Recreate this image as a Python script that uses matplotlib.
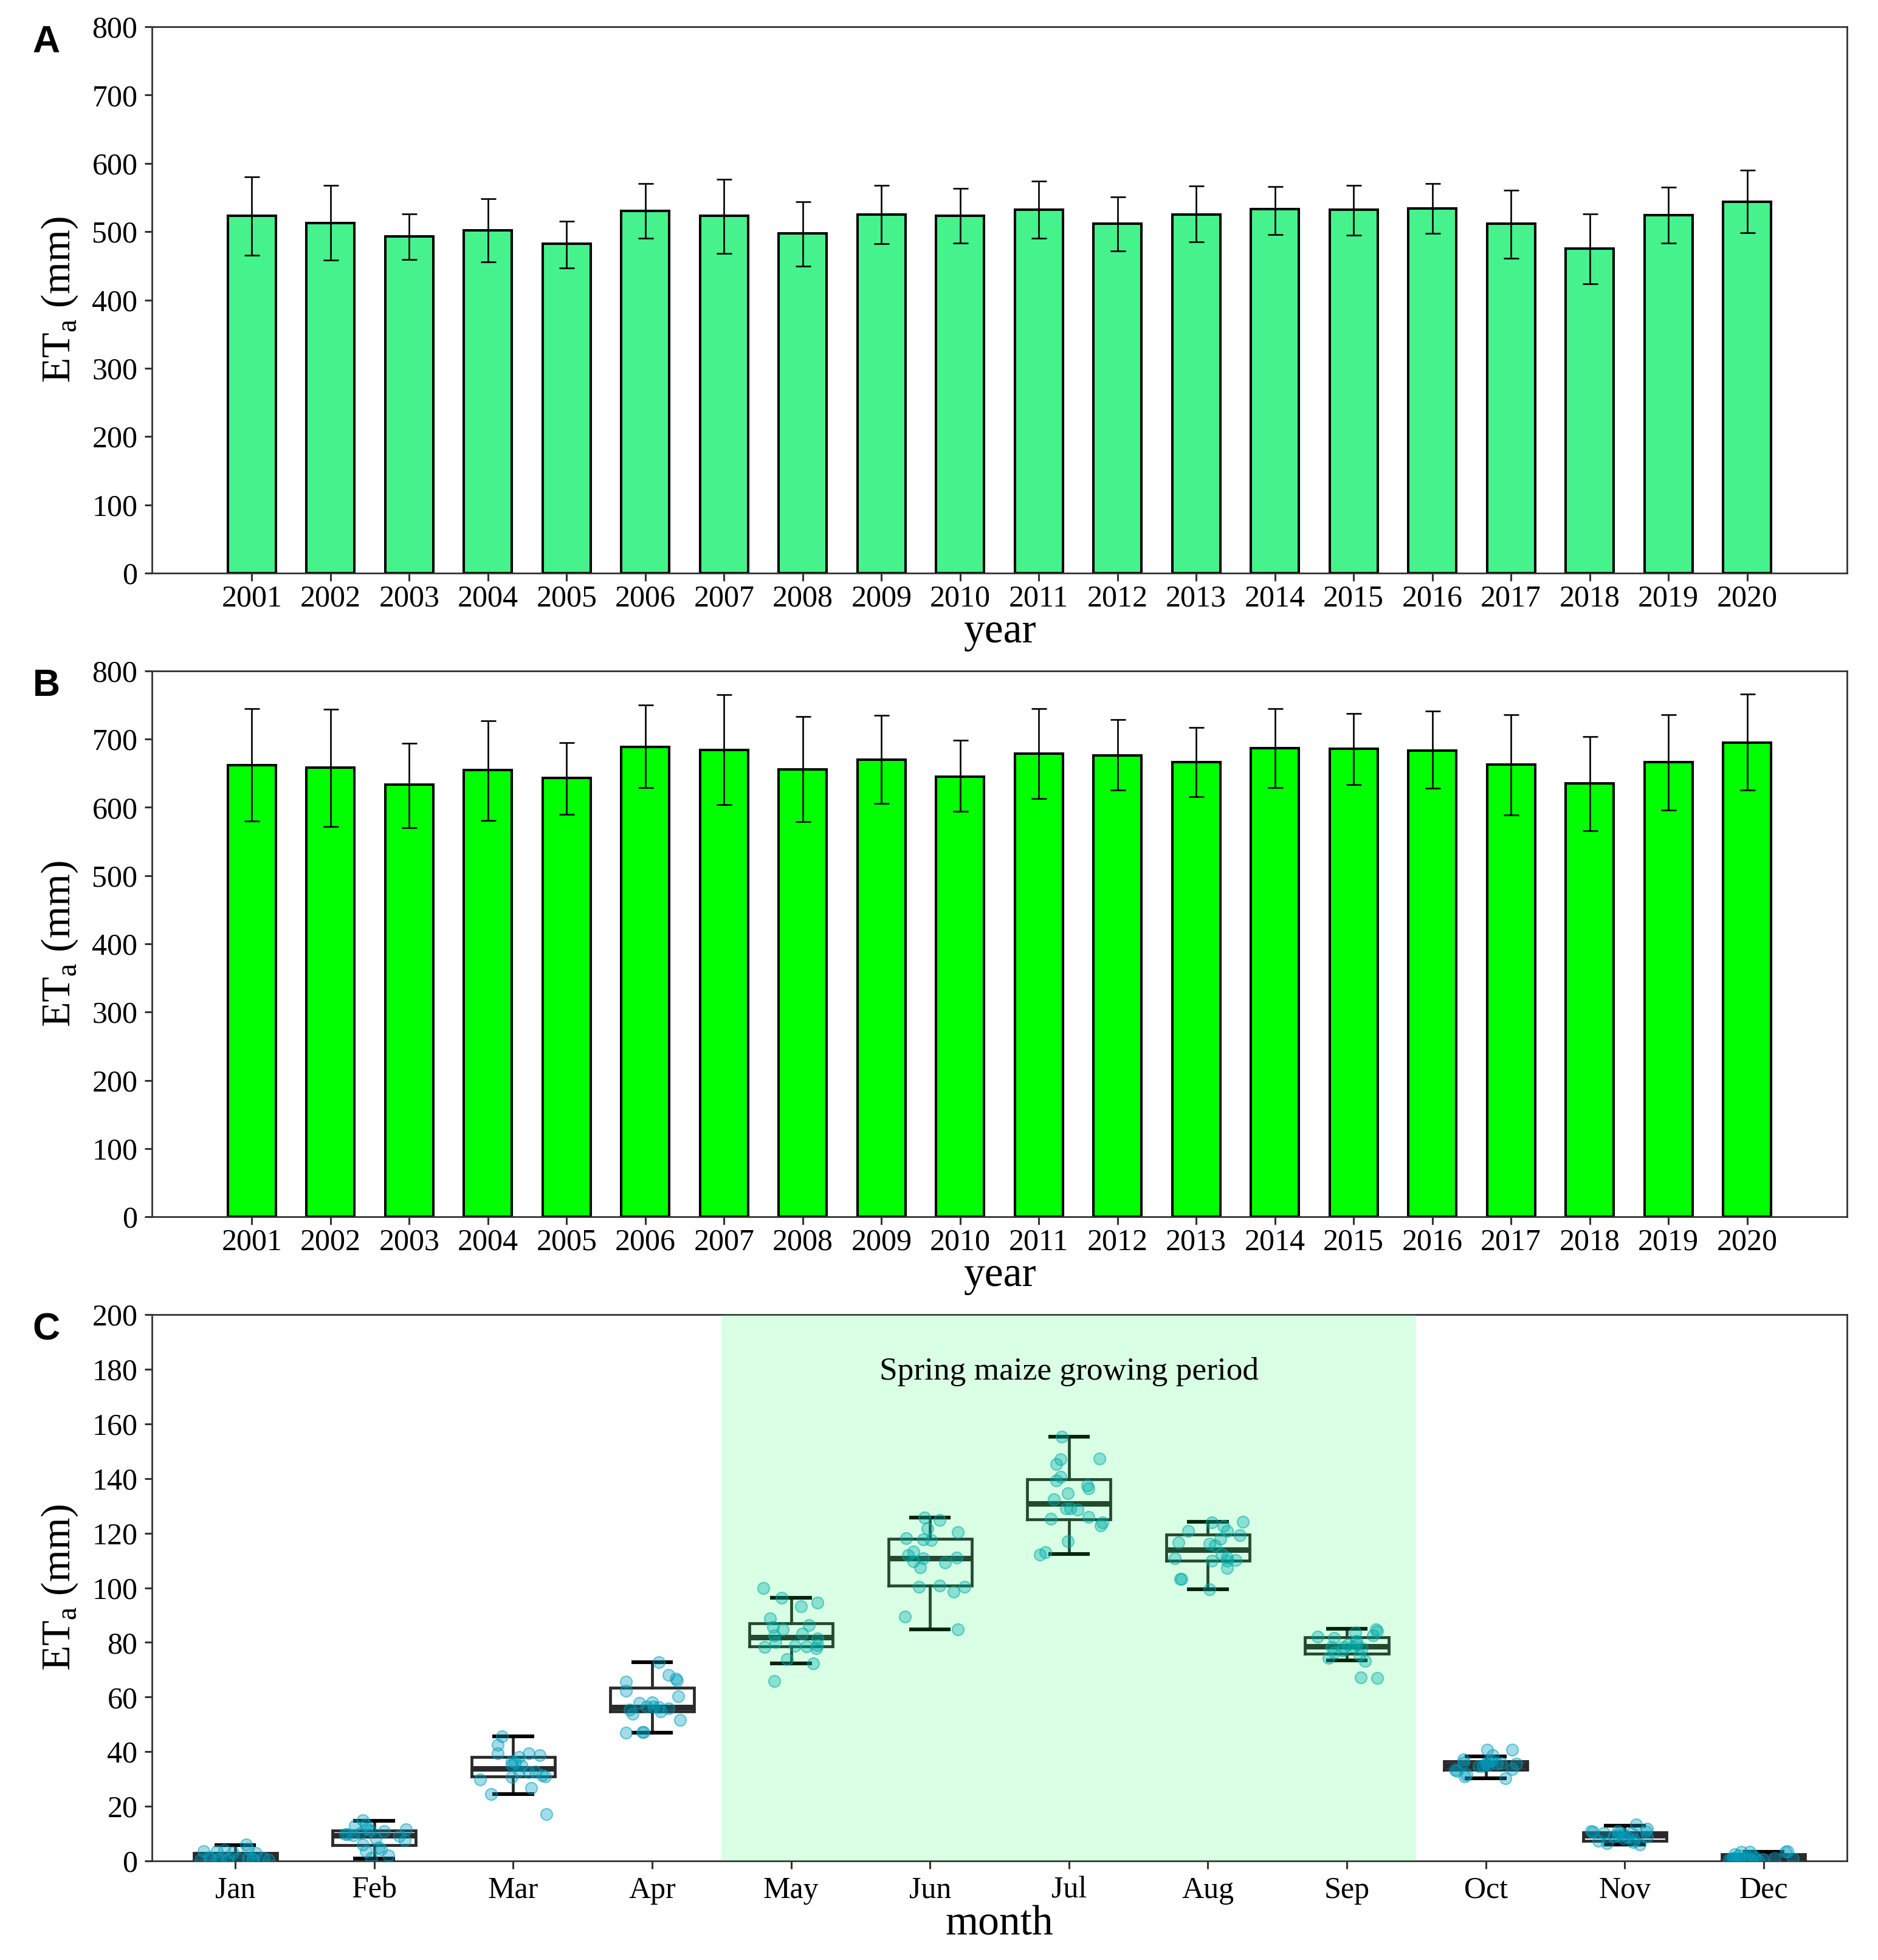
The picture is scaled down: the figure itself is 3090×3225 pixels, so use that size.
"""
Annual and monthly ETa panels
"""
import matplotlib
matplotlib.use("Agg")
import matplotlib.pyplot as plt

plt.rcParams['font.family'] = ['Liberation Serif', 'DejaVu Serif']
plt.rcParams['mathtext.fontset'] = 'custom'
plt.rcParams['mathtext.rm'] = 'Liberation Serif'

years = list(range(2001, 2021))

# panel A: mean, upper and lower end of the error bars
a_mean = [523, 513, 493, 502, 482, 530, 523, 497, 525, 523, 532, 512, 525, 533, 532, 534, 512, 475, 524, 544]
a_high = [580, 568, 526, 548, 515, 570, 577, 544, 568, 563, 574, 551, 567, 566, 568, 570, 561, 526, 565, 590]
a_low = [465, 458, 459, 456, 447, 490, 468, 449, 482, 483, 490, 472, 485, 496, 495, 497, 461, 424, 483, 498]

# panel B
b_mean = [662, 658, 633, 655, 643, 689, 684, 656, 670, 645, 679, 676, 666, 687, 686, 683, 663, 635, 666, 695]
b_high = [745, 744, 694, 727, 695, 750, 765, 733, 735, 698, 745, 729, 717, 745, 738, 741, 736, 704, 736, 766]
b_low = [580, 572, 570, 581, 590, 629, 604, 579, 606, 594, 613, 625, 616, 629, 633, 628, 589, 566, 596, 625]

# panel C: box statistics
months = ['Jan', 'Feb', 'Mar', 'Apr', 'May', 'Jun', 'Jul', 'Aug', 'Sep', 'Oct', 'Nov', 'Dec']
whisk_hi = [5.8, 14.6, 45.6, 72.8, 96.3, 125.8, 155.3, 124.2, 85.0, 38.2, 13.0, 3.4]
q3 = [2.9, 11.2, 38.0, 63.3, 86.9, 117.9, 139.7, 119.5, 81.8, 36.4, 10.5, 2.5]
medians = [1.5, 9.4, 33.8, 56.3, 81.9, 110.9, 130.8, 113.9, 78.6, 34.9, 9.4, 1.2]
q1 = [0.1, 5.7, 30.9, 54.7, 78.6, 100.7, 125.0, 110.0, 75.8, 33.4, 7.4, 0.0]
whisk_lo = [0.0, 1.0, 24.5, 47.0, 72.3, 84.7, 112.3, 99.4, 73.5, 30.2, 6.1, 0.0]

# panel C: the twenty yearly values of each month and their jitter
jan_vals = [3.6, 1.4, 3.5, 4.1, 3.2, 6.1, 4.5, 2.9, 1.0, 1.2, 1.0, 1.0, 1.0, 0.5, 0.5, 0.5, 0.8, 0.8, 0.3, 0.5]
jan_jit = [-.23, -.19, -.13, -.08, -.02, .08, .09, .15, .12, .20, -.18, -.11, .02, .13, .24, -.25, -.05, .09, -.06, -.13]
feb_vals = [15.0, 13.4, 13.0, 11.8, 11.0, 11.6, 9.7, 9.8, 9.4, 10.3, 11.2, 8.3, 9.1, 7.6, 6.1, 3.5, 4.3, 2.0, 1.2, 5.0]
feb_jit = [-.08, -.06, -.14, -.05, .07, .23, -.21, -.19, -.15, -.10, -.03, .01, .18, .22, -.08, -.06, .05, .10, -.02, .03]
mar_vals = [45.6, 42.6, 39.4, 38.0, 39.4, 38.7, 36.5, 35.1, 34.9, 32.9, 32.5, 32.7, 31.3, 31.0, 30.7, 29.7, 26.7, 24.5, 17.1, 36.0]
mar_jit = [-.08, -.11, -.11, .04, .11, .19, -.01, -.01, .06, .04, .11, .16, .21, .23, -.01, -.24, .13, -.16, .24, .01]
apr_vals = [72.8, 68.1, 66.8, 66.0, 65.7, 62.4, 60.4, 57.8, 58.0, 56.6, 56.4, 56.2, 55.8, 55.5, 54.7, 53.8, 51.6, 46.9, 47.1, 47.1]
apr_jit = [.05, .12, .17, .18, -.19, -.19, .19, -.09, 0, -.04, .01, .05, .12, -.16, .06, -.14, .20, -.19, -.07, -.06]
may_vals = [100.0, 96.3, 93.2, 94.5, 88.7, 85.6, 84.7, 86.4, 83.2, 82.5, 81.5, 80.1, 79.0, 78.7, 78.6, 78.2, 77.8, 73.9, 72.2, 65.8]
may_jit = [-.20, -.07, .07, .19, -.15, -.13, -.06, .13, .08, -.12, .19, -.11, .19, .03, .11, -.19, .18, -.03, .16, -.12]
jun_vals = [125.8, 124.7, 121.7, 120.4, 118.2, 117.7, 117.4, 113.2, 111.8, 110.8, 111.0, 109.7, 109.3, 107.5, 100.4, 100.8, 100.4, 98.5, 89.4, 84.7]
jun_jit = [-.04, .07, -.02, .20, -.17, -.05, .01, -.12, -.16, -.05, .19, -.12, .11, -.07, -.08, .07, .25, .17, -.18, .20]
jul_vals = [155.3, 147.3, 147.0, 145.2, 140.5, 139.3, 137.5, 136.4, 134.5, 132.3, 129.0, 129.1, 128.6, 125.2, 126.0, 124.0, 122.9, 117.1, 113.1, 112.2]
jul_jit = [-.05, .22, -.06, -.09, -.06, -.09, .13, .14, -.01, -.11, -.02, .01, .06, -.13, .14, .24, .23, -.01, -.17, -.21]
aug_vals = [123.9, 124.1, 122.5, 120.8, 120.8, 119.2, 118.0, 116.5, 116.1, 115.5, 112.3, 111.0, 110.8, 110.0, 110.0, 110.2, 107.2, 103.3, 103.3, 99.4]
aug_jit = [.03, .25, .11, -.14, .14, .23, .09, -.21, .01, .05, .10, .14, -.24, .03, .14, .20, .14, -.20, -.19, .01]
sep_vals = [84.8, 83.6, 84.0, 82.5, 82.1, 81.7, 80.5, 78.3, 79.3, 79.3, 78.2, 77.8, 76.2, 77.0, 75.4, 74.4, 73.3, 67.2, 67.0, 78.6]
sep_jit = [.21, .06, .22, .19, -.21, -.09, .07, -.11, .07, .01, -.02, .11, -.09, -.03, .09, -.13, .13, .10, .22, .05]
oct_vals = [40.7, 40.7, 38.8, 37.2, 36.1, 35.7, 35.9, 36.4, 35.5, 34.7, 35.1, 33.7, 33.3, 32.9, 31.5, 30.2, 34.7, 35.5, 31.0, 36.8]
oct_jit = [.01, .19, .05, -.16, -.16, .22, .11, .02, 0, -.05, .02, .19, -.22, -.21, -.14, .14, -.02, .08, -.15, .04]
nov_vals = [13.3, 11.8, 11.0, 10.6, 11.0, 10.2, 10.2, 9.8, 9.4, 9.0, 8.6, 7.4, 6.5, 7.8, 6.0, 6.9, 9.0, 10.2, 11.0, 8.2]
nov_jit = [.08, .16, .15, -.23, -.05, -.15, .05, -.01, -.05, .16, .02, -.19, -.13, .07, .11, .06, -.08, -.04, -.24, -.01]
dec_vals = [3.5, 3.3, 3.3, 3.3, 2.5, 2.0, 2.0, 1.2, 1.2, 1.2, 0.6, 1.1, 0.8, 0.4, 0.4, 0.8, 0.2, 0.2, 1.6, 0.6]
dec_jit = [.17, .16, -.16, -.10, -.21, -.18, -.08, -.22, -.14, -.06, -.01, .08, .21, -.25, -.10, -.17, -.04, -.21, -.12, -.23]

month_vals = [jan_vals, feb_vals, mar_vals, apr_vals, may_vals, jun_vals,
              jul_vals, aug_vals, sep_vals, oct_vals, nov_vals, dec_vals]
month_jit = [jan_jit, feb_jit, mar_jit, apr_jit, may_jit, jun_jit,
             jul_jit, aug_jit, sep_jit, oct_jit, nov_jit, dec_jit]

W, H = 3090, 3225
SPINE = '#333333'
YLABEL = r'ET$_{\mathrm{a}}$ (mm)'


def make_axes(fig, top, bottom):
    left, right = 250, 3039
    ax = fig.add_axes([left / W, 1 - bottom / H, (right - left) / W, (bottom - top) / H])
    for s in ax.spines.values():
        s.set_color(SPINE)
        s.set_linewidth(2.0)
    ax.tick_params(axis='both', length=9, width=2.2, color=SPINE, labelsize=36, pad=5)
    ax.tick_params(axis='y', pad=8)
    ax.set_ylabel(YLABEL, fontsize=49)
    ax.yaxis.set_label_coords(-0.0425, 0.5)
    return ax


def bar_panel(ax, mean, high, low, color):
    ax.bar(years, mean, width=0.61, color=color, edgecolor='black', linewidth=2.9, zorder=2)
    err = [[m - l for m, l in zip(mean, low)], [h - m for h, m in zip(high, mean)]]
    ax.errorbar(years, mean, yerr=err, fmt='none', ecolor='black', elinewidth=1.9,
                capsize=9, capthick=1.9, zorder=3)
    ax.set_xlim(2001 - 1.27, 2020 + 1.27)
    ax.set_ylim(0, 800)
    ax.set_yticks(range(0, 801, 100))
    ax.set_xticks(years)
    ax.set_xlabel('year', fontsize=50, labelpad=0)


fig = plt.figure(figsize=(W / 100, H / 100), dpi=100)

ax_a = make_axes(fig, 44, 943)
bar_panel(ax_a, a_mean, a_high, a_low, '#45F28C')

ax_b = make_axes(fig, 1104, 2002)
bar_panel(ax_b, b_mean, b_high, b_low, '#00FF00')

ax_c = make_axes(fig, 2163, 3062)
positions = list(range(1, 13))
stats = []
for i, m in enumerate(months):
    stats.append({'label': m, 'med': medians[i], 'q1': q1[i], 'q3': q3[i],
                  'whislo': whisk_lo[i], 'whishi': whisk_hi[i], 'fliers': []})
ax_c.bxp(stats, positions=positions, widths=0.6, capwidths=0.3, showfliers=False, zorder=2,
         boxprops=dict(color='#2a2a2a', linewidth=3.4, solid_joinstyle='miter'),
         whiskerprops=dict(color='#2a2a2a', linewidth=3.4),
         capprops=dict(color='black', linewidth=4.4, solid_capstyle='butt'),
         medianprops=dict(color='#2a2a2a', linewidth=6.5, solid_capstyle='butt'))
for pos, vals, jit in zip(positions, month_vals, month_jit):
    xs = [pos + j for j in jit]
    ax_c.scatter(xs, vals, s=190, facecolor=(0.0, 0.62, 0.74, 0.36),
                 edgecolor=(0.0, 0.62, 0.74, 0.5), linewidth=1.6, zorder=3)
ax_c.axvspan(4.5, 9.5, color=(0.0, 1.0, 0.3), alpha=0.15, linewidth=0, zorder=4)
ax_c.text(7, 179, 'Spring maize growing period', fontsize=38.4, ha='center', va='center', zorder=5)
ax_c.set_xlim(0.4, 12.6)
ax_c.set_ylim(0, 200)
ax_c.set_yticks(range(0, 201, 20))
ax_c.set_xticks(positions)
ax_c.set_xticklabels(months)
ax_c.tick_params(axis='x', pad=9)
ax_c.set_xlabel('month', fontsize=50, labelpad=1)

for letter, y in zip(['A', 'B', 'C'], [70, 1129, 2188]):
    fig.text(76 / W, 1 - y / H, letter, fontsize=45, fontweight='bold',
             family=['Liberation Sans', 'DejaVu Sans'], ha='center', va='center')

fig.savefig('out.png', dpi=100)
